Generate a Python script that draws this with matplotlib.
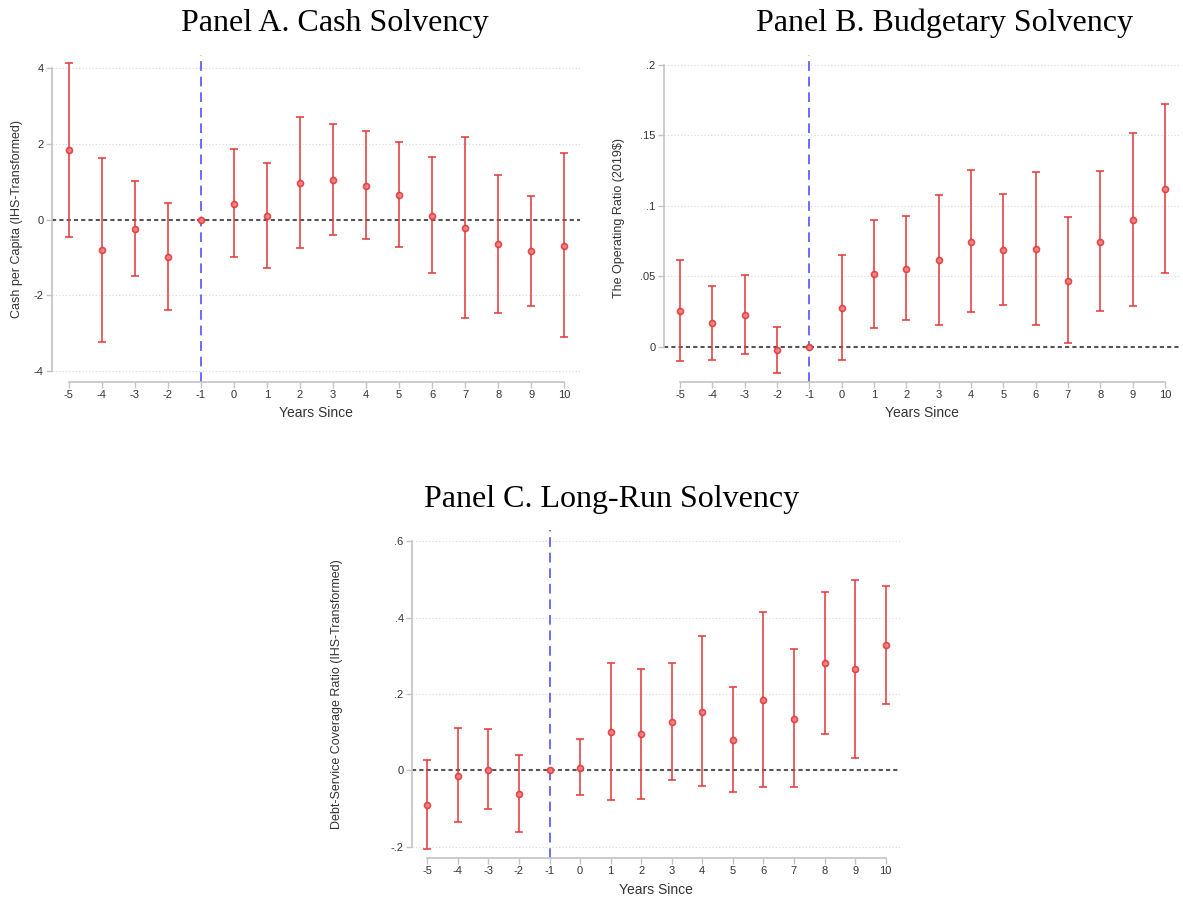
import sys
import numpy
import matplotlib
matplotlib.use("Agg")
import matplotlib.pyplot as plt

#region data

years = [-5, -4, -3, -2, -1, 0, 1, 2, 3, 4, 5, 6, 7, 8, 9, 10]

cash_est = [1.83, -0.80, -0.24, -1.00, 0.0, 0.42, 0.10, 0.97, 1.05, 0.88, 0.64, 0.10, -0.23, -0.65, -0.84, -0.69]
cash_hi = [4.13, 1.63, 1.03, 0.45, 0.0, 1.86, 1.50, 2.70, 2.53, 2.33, 2.04, 1.66, 2.19, 1.17, 0.62, 1.77]
cash_lo = [-0.46, -3.22, -1.49, -2.40, 0.0, -1.00, -1.28, -0.74, -0.40, -0.52, -0.73, -1.42, -2.60, -2.46, -2.28, -3.11]

oper_est = [0.0257, 0.0168, 0.0227, -0.0024, 0.0, 0.0276, 0.0515, 0.0555, 0.0614, 0.0744, 0.0685, 0.0694, 0.0470, 0.0746, 0.0897, 0.1119]
oper_hi = [0.0619, 0.0432, 0.0510, 0.0142, 0.0, 0.0654, 0.0902, 0.0928, 0.1077, 0.1251, 0.1084, 0.1242, 0.0923, 0.1247, 0.1514, 0.1721]
oper_lo = [-0.0099, -0.0092, -0.0052, -0.0184, 0.0, -0.0094, 0.0135, 0.0189, 0.0156, 0.0246, 0.0293, 0.0151, 0.0024, 0.0255, 0.0290, 0.0524]

dscr_est = [-0.091, -0.014, 0.001, -0.062, 0.0, 0.007, 0.100, 0.094, 0.126, 0.154, 0.079, 0.185, 0.134, 0.280, 0.266, 0.328]
dscr_hi = [0.027, 0.110, 0.107, 0.041, 0.0, 0.081, 0.280, 0.266, 0.280, 0.352, 0.219, 0.416, 0.317, 0.467, 0.500, 0.482]
dscr_lo = [-0.206, -0.136, -0.102, -0.162, 0.0, -0.066, -0.079, -0.076, -0.025, -0.041, -0.057, -0.044, -0.045, 0.095, 0.032, 0.174]

cash_ticks = [-4, -2, 0, 2, 4]
cash_ticklabels = ["-4", "-2", "0", "2", "4"]
oper_ticks = [0, 0.05, 0.1, 0.15, 0.2]
oper_ticklabels = ["0", ".05", ".1", ".15", ".2"]
dscr_ticks = [-0.2, 0, 0.2, 0.4, 0.6]
dscr_ticklabels = ["-.2", "0", ".2", ".4", ".6"]

#endregion

W, H = 1183, 909
RED = "#e23a3a"
BLUE = "#6a6aff"
SPINE = "#c4c4c4"
TXT = "#333333"


def px_axes(fig, left, top, right, bottom):
  return fig.add_axes([left / W, 1 - bottom / H, (right - left) / W, (bottom - top) / H])


def draw_panel(ax, est, lo, hi, ticks, ticklabels, ylim, ylabel, ylab_x, xlab_y):
  x = numpy.array(years)
  est = numpy.array(est)
  err = [est - numpy.array(lo), numpy.array(hi) - est]

  ax.set_xlim(-5.5, 10.47)
  ax.set_ylim(*ylim)

  # grid and reference lines
  for t in ticks:
    if t != 0:
      ax.axhline(t, color="#d8d8d8", lw=0.8, ls=(0, (1, 2)), zorder=0)
  ax.axhline(0, color="#555555", lw=1.5, ls=(0, (2, 1.5)), zorder=1)
  ax.axvline(-1, color=BLUE, lw=1.4, ls=(0, (5, 3)), zorder=1)

  ax.errorbar(x, est, yerr=err, fmt="none", ecolor=RED, elinewidth=1.4,
              capsize=3, capthick=1.4, alpha=0.8, zorder=3)
  ax.plot(x, est, "o", ms=4.3, mfc="#f08080", mec=RED, mew=1.2, alpha=0.9, zorder=4)

  for s in ["top", "right"]:
    ax.spines[s].set_visible(False)
  for s in ["left", "bottom"]:
    ax.spines[s].set_color(SPINE)
    ax.spines[s].set_linewidth(1.2)
  ax.spines["left"].set_bounds(ticks[0], ticks[-1])
  ax.spines["bottom"].set_bounds(-5, 10)

  ax.set_yticks(ticks)
  ax.set_yticklabels(ticklabels)
  ax.set_xticks(years)
  ax.set_xticklabels([str(y) for y in years])
  ax.tick_params(axis="both", color=SPINE, width=1.0, length=4, labelsize=8,
                 labelcolor=TXT, pad=2)
  for lab in ax.get_xticklabels() + ax.get_yticklabels():
    lab.set_family("Liberation Sans")

  ax.set_ylabel(ylabel, fontsize=9, color=TXT, family="Liberation Sans")
  ax.yaxis.set_label_coords(ylab_x, 0.5)
  ax.set_xlabel("Years Since", fontsize=10, color=TXT, family="Liberation Sans")
  ax.xaxis.set_label_coords(0.5, xlab_y)
  ax.patch.set_alpha(0)


def main(argv):
  fig = plt.figure(figsize=(W / 100, H / 100), dpi=100)

  ax_a = px_axes(fig, 52, 55, 580, 382)
  draw_panel(ax_a, cash_est, cash_lo, cash_hi, cash_ticks, cash_ticklabels,
             (-4.29, 4.35), "Cash per Capita (IHS-Transformed)", -0.055, -0.072)

  ax_b = px_axes(fig, 664, 55, 1180, 382)
  draw_panel(ax_b, oper_est, oper_lo, oper_hi, oper_ticks, oper_ticklabels,
             (-0.025, 0.207), "The Operating Ratio (2019$)", -0.075, -0.072)

  ax_c = px_axes(fig, 412, 530, 900, 858)
  draw_panel(ax_c, dscr_est, dscr_lo, dscr_hi, dscr_ticks, dscr_ticklabels,
             (-0.23, 0.63), "Debt-Service Coverage Ratio (IHS-Transformed)", -0.141, -0.075)

  title_kw = dict(fontsize=23, family="Liberation Serif", color="black", ha="center", va="center")
  fig.text(335 / W, 1 - 23 / H, "Panel A. Cash Solvency", **title_kw)
  fig.text(944 / W, 1 - 23 / H, "Panel B. Budgetary Solvency", **title_kw)
  fig.text(612 / W, 1 - 499 / H, "Panel C. Long-Run Solvency", **title_kw)

  fig.savefig("out.png", dpi=100, facecolor="white")


#region main()-boilerplate
if __name__ == "__main__":
  main(sys.argv)
#endregion
